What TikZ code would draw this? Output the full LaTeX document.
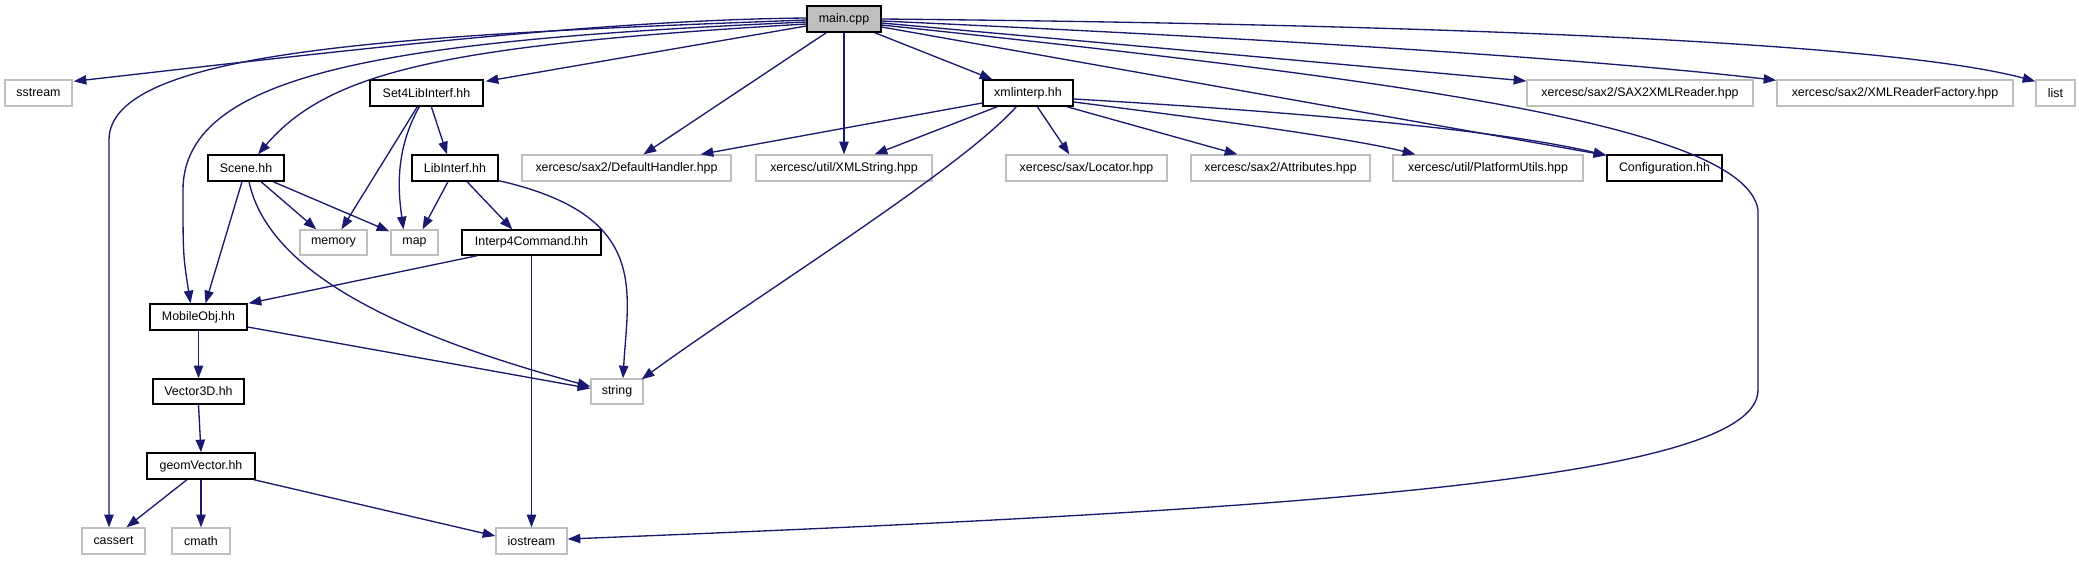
\documentclass[tikz,border=0pt]{standalone}
\usepackage{fontspec}
\setmainfont{Liberation Sans}
\usetikzlibrary{arrows.meta,calc}
\definecolor{edgec}{HTML}{191970}
\definecolor{graybd}{HTML}{BFBFBF}
\begin{document}
\begin{tikzpicture}[x=0.75pt,y=-0.75pt,
  base/.style={rectangle, inner sep=0pt, minimum height=19.5pt, font=\fontsize{9.3}{11}\selectfont, line width=1pt},
  ext/.style={base, draw=graybd, fill=white},
  int/.style={base, draw=black, fill=white},
  root/.style={base, draw=black, fill=graybd},
  w/.style={minimum width=#1*0.75pt},
  e/.style={draw=edgec, line width=1pt, -{Triangle[length=9.5pt,width=7pt]}},
]
\useasboundingbox (0,0) rectangle (2079,560);
% row 0
\node[root,w=74] (main) at (844,19) {main.cpp};
% row 1
\node[ext,w=67] (sstream) at (38.5,93) {sstream};
\node[int,w=113] (set4) at (426.5,93) {Set4LibInterf.hh};
\node[int,w=90] (xmlinterp) at (1028,93) {xmlinterp.hh};
\node[ext,w=226] (sax2r) at (1640,93) {xercesc/sax2/SAX2XMLReader.hpp};
\node[ext,w=236] (xmlrf) at (1895,93) {xercesc/sax2/XMLReaderFactory.hpp};
\node[ext,w=39] (list) at (2055.5,93) {list};
% row 2
\node[int,w=76] (scene) at (246,168) {Scene.hh};
\node[int,w=86] (libinterf) at (455,168) {LibInterf.hh};
\node[ext,w=209] (defh) at (626.5,168) {xercesc/sax2/DefaultHandler.hpp};
\node[ext,w=176] (xmlstr) at (844,168) {xercesc/util/XMLString.hpp};
\node[ext,w=161] (locator) at (1086.5,168) {xercesc/sax/Locator.hpp};
\node[ext,w=179] (attrib) at (1280.5,168) {xercesc/sax2/Attributes.hpp};
\node[ext,w=190] (platf) at (1488,168) {xercesc/util/PlatformUtils.hpp};
\node[int,w=115] (config) at (1664.5,168) {Configuration.hh};
% row 3
\node[ext,w=67,minimum height=18.75pt] (memory) at (333.5,242.5) {memory};
\node[ext,w=47,minimum height=18.75pt] (map) at (414.5,242.5) {map};
\node[int,w=139,minimum height=18.75pt] (interp) at (531.5,242.5) {Interp4Command.hh};
% row 4
\node[int,w=97] (mobile) at (198.5,317) {MobileObj.hh};
% row 5
\node[int,w=91,minimum height=18.75pt] (vector3d) at (198.5,391.5) {Vector3D.hh};
\node[ext,w=52,minimum height=18.75pt] (string) at (617,391.5) {string};
% row 6
\node[int,w=108] (geom) at (201,466) {geomVector.hh};
% row 7
\node[ext,w=63] (cassert) at (113.5,541) {cassert};
\node[ext,w=58] (cmath) at (201,541) {cmath};
\node[ext,w=71] (iostream) at (531.5,541) {iostream};

% edges from main.cpp
\draw[e] ($(main.west)+(0,-1)$) .. controls (600,20) and (350,50) .. ($(sstream.north east)+(1,2)$);
\draw[e] ($(main.west)+(0,1)$) .. controls (400,35) and (109,50) .. (109,140) -- ($(cassert.north)+(-4.5,0)$);
\draw[e] ($(main.west)+(0,3)$) .. controls (400,40) and (183,70) .. (183,190) .. controls (183,255) .. ($(mobile.north)+(-8,0)$);
\draw[e] ($(main.west)+(0,5)$) .. controls (450,45) and (330,70) .. ($(scene.north)+(12,0)$);
\draw[e] ($(main.west)+(0,7)$) -- ($(set4.north east)+(2,2)$);
\draw[e] ($(main.south west)+(20,0)$) -- ($(defh.north)+(17,0)$);
\draw[e] (main.south) -- (xmlstr.north);
\draw[e] ($(main.south east)+(-7,0)$) -- ($(xmlinterp.north west)+(10,0)$);
\draw[e] ($(main.east)+(0,8)$) -- ($(config.north west)+(0,1)$);
\draw[e] ($(main.east)+(0,6)$) .. controls (1400,80) and (1745,125) .. (1758,210) -- (1758,390) .. controls (1758,480) and (1300,510) .. ($(iostream.east)+(0,-2)$);
\draw[e] ($(main.east)+(0,4)$) -- ($(sax2r.west)+(0,-12)$);
\draw[e] ($(main.east)+(0,2)$) .. controls (1300,40) and (1600,60) .. ($(xmlrf.north west)+(0,1)$);
\draw[e] (main.east) .. controls (1500,25) and (1900,45) .. ($(list.north west)+(0,2)$);

% edges from xmlinterp.hh
\draw[e] ($(xmlinterp.west)+(0,10)$) -- ($(defh.north east)+(-31,0)$);
\draw[e] ($(xmlinterp.south west)+(15,0)$) -- ($(xmlstr.north east)+(-58,0)$);
\draw[e] ($(xmlinterp.south west)+(34,0)$) .. controls (960,170) and (750,300) .. ($(string.north east)+(-2,1)$);
\draw[e] ($(xmlinterp.south west)+(55,0)$) -- ($(locator.north west)+(64,0)$);
\draw[e] ($(xmlinterp.south east)+(-7,0)$) -- ($(attrib.north west)+(47,0)$);
\draw[e] ($(xmlinterp.east)+(0,9)$) .. controls (1200,118) and (1350,138) .. ($(platf.north west)+(23,0)$);
\draw[e] ($(xmlinterp.east)+(0,6)$) .. controls (1300,112) and (1500,130) .. ($(config.north west)+(0,1)$);

% edges from Set4LibInterf.hh
\draw[e] ($(set4.south west)+(48,0)$) -- ($(memory.north)+(8,0)$);
\draw[e] ($(set4.south west)+(50,0)$) .. controls (395,150) and (398,190) .. ($(map.north)+(-11,0)$);
\draw[e] ($(set4.south west)+(62,0)$) -- ($(libinterf.north)+(-8,0)$);

% edges from Scene.hh
\draw[e] ($(scene.south)+(-4,0)$) -- ($(mobile.north)+(7,0)$);
\draw[e] ($(scene.south)+(3,0)$) .. controls (270,280) and (420,340) .. ($(string.west)+(0,-5)$);
\draw[e] ($(scene.south)+(15,0)$) -- ($(memory.north west)+(17,0)$);
\draw[e] ($(scene.south)+(27,0)$) -- ($(map.north west)+(-1,2)$);

% edges from LibInterf.hh
\draw[e] ($(libinterf.south)+(-7,0)$) -- ($(map.north)+(8,0)$);
\draw[e] ($(libinterf.south)+(12,0)$) -- ($(interp.north west)+(51,0)$);
\draw[e] ($(libinterf.south east)+(0,-1)$) .. controls (650,215) and (628,290) .. ($(string.north)+(6,0)$);

% edges from Interp4Command.hh
\draw[e] ($(interp.south west)+(16,0)$) -- ($(mobile.north east)+(1,0)$);
\draw[e] (interp.south) -- (iostream.north);

% edges from MobileObj.hh
\draw[e] (mobile.south) -- (vector3d.north);
\draw[e] ($(mobile.east)+(0,10)$) -- ($(string.west)+(0,-3)$);

% Vector3D.hh and geomVector.hh
\draw[e] (vector3d.south) -- (geom.north);
\draw[e] ($(geom.south)+(-14,0)$) -- ($(cassert.north)+(13,0)$);
\draw[e] (geom.south) -- (cmath.north);
\draw[e] ($(geom.south east)+(-2,0)$) -- ($(iostream.west)+(0,-5)$);
\end{tikzpicture}
\end{document}
